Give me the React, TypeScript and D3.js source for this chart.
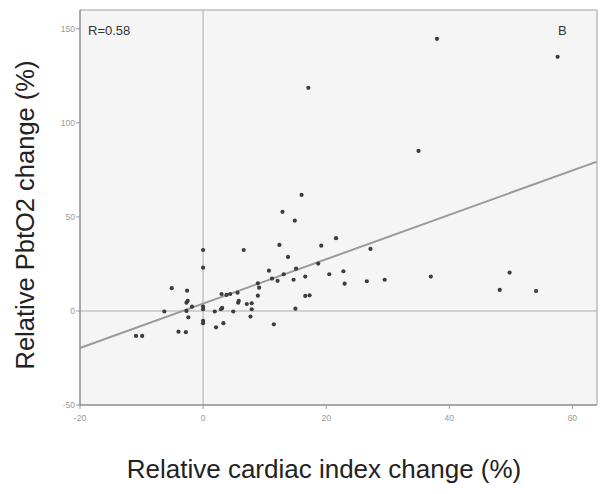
import React from "react";
import * as d3 from "d3";

const xValues: number[] = [
  17.1, 16.0, 38.0, 57.6, 35.0, 0, 6.6, 0, -5.1, -2.6,
  -2.7, -2.5, -1.8, 0, -6.3, -2.7, -2.4, 0, 0, 0,
  1.9, 2.9, 3.1, 4.9, 5.7, 5.8, 7.1, 7.9, 7.9, 7.7,
  3.0, 3.8, 4.4, 5.6, 2.1, 3.3, -4.0, -2.8, -10.9, -9.9,
  12.9, 14.9, 21.6, 19.2, 12.4, 27.2, 13.8, 18.7, 15.1, 10.7,
  22.8, 20.5, 13.1, 11.2, 12.1, 16.6, 14.7, 23.0, 26.6, 29.5,
  37.0, 8.9, 9.1, 8.9, 16.6, 17.3, 15.0, 11.5, 49.8, 48.2,
  54.1,
];
const yValues: number[] = [
  118.6, 61.7, 144.7, 135.1, 85.1, 32.4, 32.4, 23, 12.1, 10.8,
  4.4, 5.4, 2.3, 2.3, -0.3, 0, -3.4, 0.9, -5.2, -6.5,
  -0.3, 0.9, 1.6, -0.3, 4.4, 5.4, 3.7, 4.1, 0.9, -3,
  9.0, 8.5, 9.0, 9.7, -8.7, -6.5, -11, -11.3, -13.3, -13.3,
  52.7, 48, 38.7, 34.7, 35.1, 33, 28.7, 25.2, 22.5, 21.4,
  21.1, 19.5, 19.5, 17.2, 16, 18.3, 16.6, 14.5, 15.8, 16.6,
  18.3, 14.7, 12.4, 8.1, 8, 8.3, 1.2, -7.1, 20.4, 11.2,
  10.6,
];
const xTicks: number[] = [-20, 0, 20, 40, 60];
const yTicks: number[] = [-50, 0, 50, 100, 150];
const xDomain: [number, number] = [-20, 64];
const yDomain: [number, number] = [-50, 160];
const fitIntercept = 3.9;
const fitSlope = 1.18;
const rLabel = "R=0.58";
const panelLabel = "B";
const xTitle = "Relative cardiac index change (%)";
const yTitle = "Relative PbtO2 change (%)";

export default function App() {
  const left = 80, right = 597, top = 10, bottom = 405;
  const x = d3.scaleLinear().domain(xDomain).range([left, right]);
  const y = d3.scaleLinear().domain(yDomain).range([bottom, top]);
  const fitLine = d3
    .line<number>()
    .x((d) => x(d))
    .y((d) => y(fitIntercept + fitSlope * d));
  const font = "'Liberation Sans', Arial, sans-serif";
  return (
    <svg
      width={600}
      height={494}
      style={{ position: "absolute", left: 0, top: 0, background: "#fff" }}
      fontFamily={font}
    >
      <defs>
        <filter id="soft" x="-50%" y="-50%" width="200%" height="200%">
          <feGaussianBlur stdDeviation="0.5" />
        </filter>
      </defs>
      <rect x={left} y={top} width={right - left} height={bottom - top} fill="#f5f5f5" />
      {/* reference lines */}
      <line x1={x(0)} x2={x(0)} y1={top} y2={bottom} stroke="#c4c4c4" strokeWidth={1.5} />
      <line x1={left} x2={right} y1={y(0)} y2={y(0)} stroke="#c4c4c4" strokeWidth={1.5} />
      {/* fit line */}
      <path d={fitLine(xDomain) || ""} stroke="#9a9a9a" strokeWidth={2} fill="none" />
      {/* points */}
      <g filter="url(#soft)">
        {xValues.map((v, i) => (
          <circle key={i} cx={x(v)} cy={y(yValues[i])} r={2.1} fill="#3c3c3c" />
        ))}
      </g>
      {/* frame */}
      <line x1={left} x2={right} y1={top} y2={top} stroke="#bdbdbd" strokeWidth={1.5} />
      <line x1={right} x2={right} y1={top} y2={bottom} stroke="#bdbdbd" strokeWidth={1.5} />
      <line x1={left} x2={left} y1={top} y2={bottom + 1} stroke="#8c8c8c" strokeWidth={1.5} />
      <line x1={left - 1} x2={right} y1={bottom} y2={bottom} stroke="#8c8c8c" strokeWidth={1.5} />
      {/* y ticks */}
      {yTicks.map((t) => (
        <g key={"y" + t}>
          <line x1={left - 4} x2={left} y1={y(t)} y2={y(t)} stroke="#999" strokeWidth={1} />
          <text x={left - 5} y={y(t)} dy="0.35em" textAnchor="end" fontSize={8.5} fill="#999">
            {t}
          </text>
        </g>
      ))}
      {/* x ticks */}
      {xTicks.map((t) => (
        <g key={"x" + t}>
          <line x1={x(t)} x2={x(t)} y1={bottom} y2={bottom + 4} stroke="#999" strokeWidth={1} />
          <text x={x(t)} y={bottom + 16} textAnchor="middle" fontSize={8.5} fill="#999">
            {t}
          </text>
        </g>
      ))}
      <text x={88} y={35} fontSize={13} fill="#333">
        {rLabel}
      </text>
      <text x={558} y={35} fontSize={13} fill="#333">
        {panelLabel}
      </text>
      <text x={324} y={478} textAnchor="middle" fontSize={26} fill="#222">
        {xTitle}
      </text>
      <text
        transform={`translate(34, 215) rotate(-90)`}
        textAnchor="middle"
        fontSize={25.5}
        fill="#222"
      >
        {yTitle}
      </text>
    </svg>
  );
}
